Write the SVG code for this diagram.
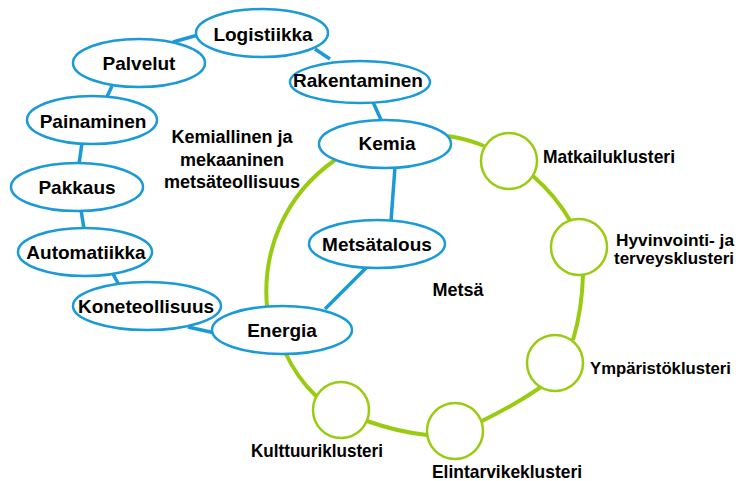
<svg xmlns="http://www.w3.org/2000/svg" width="739" height="481" viewBox="0 0 739 481">
<style>
.n{fill:#fff;stroke:#1a9ad6;stroke-width:2.5}
.c{fill:#fff;stroke:#99cc11;stroke-width:2.5}
.bl{fill:none;stroke:#1a9ad6;stroke-width:3.5}
.gl{fill:none;stroke:#99cc11;stroke-width:4}
text{font-family:"Liberation Sans",Arial,sans-serif;font-weight:bold;fill:#000}
.t{font-size:19px;text-anchor:middle}
.m{font-size:18px;text-anchor:middle}
.k{font-size:19px}
.h{font-size:16.5px}
.y{font-size:17px}
</style>
<rect width="739" height="481" fill="#fff"/>
<g id="connectors">
<path class="gl" d="M267,307 C262,250 285,195 335,160"/>
<path class="gl" d="M448,136 Q468,139 484,146"/>
<path class="gl" d="M533,176 Q556,196 571,222"/>
<path class="gl" d="M583,275 Q582,310 573,340"/>
<path class="gl" d="M541,387 Q515,405 480,422"/>
<path class="gl" d="M427,435 Q398,432 367,421"/>
<path class="gl" d="M316,396 Q297,378 285,352"/>
<line class="bl" x1="173" y1="42" x2="198" y2="35"/>
<line class="bl" x1="315" y1="49" x2="330" y2="59"/>
<line class="bl" x1="373" y1="102" x2="382" y2="122"/>
<line class="bl" x1="112" y1="86" x2="106" y2="99"/>
<line class="bl" x1="82" y1="143" x2="79" y2="164"/>
<line class="bl" x1="81" y1="210" x2="84" y2="229"/>
<line class="bl" x1="113" y1="274" x2="119" y2="285"/>
<line class="bl" x1="188" y1="327" x2="215" y2="333"/>
<line class="bl" x1="395" y1="167" x2="391" y2="221"/>
<line class="bl" x1="368" y1="266" x2="325" y2="309"/>
</g>
<g id="logistiikka"><ellipse class="n" cx="262" cy="33" rx="66" ry="24"/><text class="t" x="263" y="41">Logistiikka</text></g>
<g id="palvelut"><ellipse class="n" cx="139" cy="63" rx="66" ry="24"/><text class="t" x="139" y="70">Palvelut</text></g>
<g id="rakentaminen"><ellipse class="n" cx="360" cy="82" rx="70" ry="21"/><text class="t" x="358" y="87">Rakentaminen</text></g>
<g id="painaminen"><ellipse class="n" cx="92" cy="120" rx="65" ry="24"/><text class="t" x="93" y="128">Painaminen</text></g>
<g id="kemia"><ellipse class="n" cx="385" cy="144" rx="66" ry="24"/><text class="t" x="387" y="150">Kemia</text></g>
<g id="pakkaus"><ellipse class="n" cx="77" cy="187" rx="66" ry="24"/><text class="t" x="77" y="194">Pakkaus</text></g>
<g id="automatiikka"><ellipse class="n" cx="85" cy="252" rx="67" ry="24"/><text class="t" x="86" y="259">Automatiikka</text></g>
<g id="koneteollisuus"><ellipse class="n" cx="147" cy="306" rx="74" ry="24"/><text class="t" x="146" y="313">Koneteollisuus</text></g>
<g id="energia"><ellipse class="n" cx="282" cy="330" rx="70" ry="24"/><text class="t" x="282" y="337">Energia</text></g>
<g id="metsatalous"><ellipse class="n" cx="377" cy="244" rx="68" ry="24"/><text class="t" x="377" y="251">Metsätalous</text></g>
<g id="metsateollisuus"><text class="m" x="232" y="143">Kemiallinen ja</text><text class="m" x="232" y="166">mekaaninen</text><text class="m" x="232" y="188">metsäteollisuus</text></g>
<g id="metsa"><text class="m" x="458" y="296">Metsä</text></g>
<g id="matkailuklusteri"><circle class="c" cx="509" cy="161" r="28"/><text class="k" x="543" y="163" textLength="132" lengthAdjust="spacingAndGlyphs">Matkailuklusteri</text></g>
<g id="hyvinvointiklusteri"><circle class="c" cx="579" cy="247" r="28"/><text class="h" x="616" y="246" textLength="118" lengthAdjust="spacingAndGlyphs">Hyvinvointi- ja</text><text class="h" x="614" y="264" textLength="120" lengthAdjust="spacingAndGlyphs">terveysklusteri</text></g>
<g id="ymparistoklusteri"><circle class="c" cx="555" cy="363" r="28"/><text class="y" x="590" y="374" textLength="141" lengthAdjust="spacingAndGlyphs">Ympäristöklusteri</text></g>
<g id="elintarvikeklusteri"><circle class="c" cx="455" cy="431" r="28"/><text class="k" x="432" y="478" textLength="150" lengthAdjust="spacingAndGlyphs">Elintarvikeklusteri</text></g>
<g id="kulttuuriklusteri"><circle class="c" cx="341" cy="410" r="28"/><text class="k" x="251" y="457" textLength="132" lengthAdjust="spacingAndGlyphs">Kulttuuriklusteri</text></g>
</svg>
